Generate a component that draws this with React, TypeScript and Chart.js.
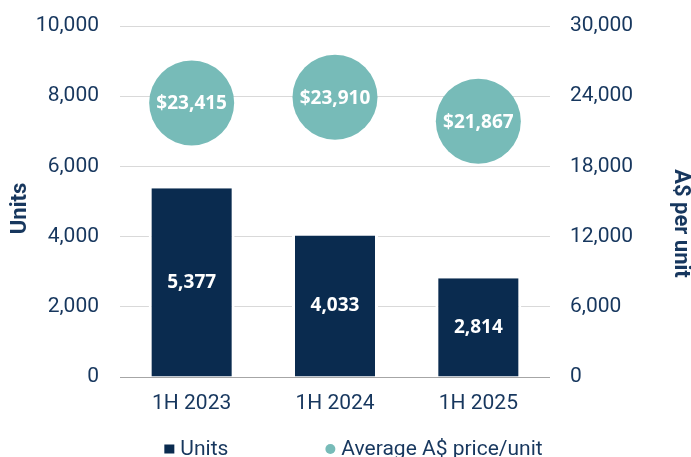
import React, { useEffect, useRef } from 'react';
import { Chart, registerables } from 'chart.js';

Chart.register(...registerables);

const categories = ['1H 2023', '1H 2024', '1H 2025'];
const unitsValues = [5377, 4033, 2814];
const avgPriceValues = [23415, 23910, 21867];
const unitsAxis = { min: 0, max: 10000, step: 2000 };
const priceAxis = { min: 0, max: 30000, step: 6000 };
const leftTitle = 'Units';
const rightTitle = 'A$ per unit';

const NAVY = '#0a2b4f';
const TEAL = '#77bbb8';
const TEXT = '#17375e';
const GRID = '#d9d9d9';
const ZERO = '#a6a6a6';

const fmt = (v: number) => Number(v).toLocaleString('en-US');

const valueLabels = {
  id: 'valueLabels',
  afterDatasetsDraw(chart: any) {
    const ctx = chart.ctx;
    ctx.save();
    ctx.fillStyle = '#ffffff';
    ctx.font = '700 19px "Open Sans"';
    ctx.textAlign = 'center';
    ctx.textBaseline = 'middle';
    chart.data.datasets.forEach((ds: any, di: number) => {
      const meta = chart.getDatasetMeta(di);
      meta.data.forEach((el: any, i: number) => {
        const v = ds.data[i] as number;
        if (meta.type === 'bar') {
          ctx.fillText(fmt(v), el.x, (el.y + el.base) / 2);
        } else {
          ctx.fillText('$' + fmt(v), el.x, el.y + 1);
        }
      });
    });
    ctx.restore();
  },
};

const axisTitles = {
  id: 'axisTitles',
  afterDraw(chart: any) {
    const ctx = chart.ctx;
    const a = chart.chartArea;
    const midY = (a.top + a.bottom) / 2;
    ctx.save();
    ctx.fillStyle = TEXT;
    ctx.font = '700 22px Roboto';
    ctx.textAlign = 'center';
    ctx.textBaseline = 'middle';
    ctx.save();
    ctx.translate(a.left - 100, midY + 7);
    ctx.rotate(-Math.PI / 2);
    ctx.fillText(leftTitle, 0, 0);
    ctx.restore();
    ctx.save();
    ctx.translate(a.right + 130, midY + 22);
    ctx.rotate(Math.PI / 2);
    ctx.fillText(rightTitle, 0, 0);
    ctx.restore();
    ctx.restore();
  },
};

const bottomLegend = {
  id: 'bottomLegend',
  afterDraw(chart: any) {
    const ctx = chart.ctx;
    ctx.save();
    ctx.font = '21px Roboto';
    ctx.textBaseline = 'alphabetic';
    ctx.textAlign = 'left';
    const items = chart.data.datasets.map((ds: any) => ({
      text: ds.label as string,
      color: (ds.type === 'bar' ? ds.backgroundColor : ds.pointBackgroundColor) as string,
      shape: ds.type === 'bar' ? 'square' : 'circle',
    }));
    const marker = 10;
    const gap = 6;
    const itemGap = 97;
    const widths = items.map((it: any) => marker + gap + ctx.measureText(it.text).width);
    const total = widths.reduce((a: number, b: number) => a + b, 0) + itemGap * (items.length - 1);
    let x = chart.width / 2 + 8 - total / 2;
    const cy = chart.height - 8;
    const baseY = chart.height - 2.5;
    items.forEach((it: any, i: number) => {
      ctx.fillStyle = it.color;
      if (it.shape === 'square') {
        ctx.fillRect(x, cy - 4.5, marker, 9);
      } else {
        ctx.beginPath();
        ctx.arc(x + marker / 2, cy, marker / 2, 0, Math.PI * 2);
        ctx.fill();
      }
      ctx.fillStyle = TEXT;
      ctx.fillText(it.text, x + marker + gap, baseY);
      x += widths[i] + itemGap;
    });
    ctx.restore();
  },
};

export default function App() {
  const canvasRef = useRef<HTMLCanvasElement | null>(null);

  useEffect(() => {
    if (!canvasRef.current) return;
    const chart = new Chart(canvasRef.current, {
      type: 'bar',
      data: {
        labels: categories,
        datasets: [
          {
            type: 'bar',
            label: 'Units',
            data: unitsValues,
            backgroundColor: NAVY,
            borderColor: '#ffffff',
            borderWidth: { left: 3, right: 3, top: 0, bottom: 0 },
            borderSkipped: false,
            barPercentage: 0.6,
            categoryPercentage: 1,
            yAxisID: 'y',
          } as any,
          {
            type: 'line',
            label: 'Average A$ price/unit',
            data: avgPriceValues,
            showLine: false,
            pointRadius: 42.5,
            pointHoverRadius: 42.5,
            pointBackgroundColor: TEAL,
            pointBorderWidth: 0,
            borderColor: TEAL,
            yAxisID: 'y1',
            clip: false,
          } as any,
        ],
      },
      options: {
        animation: false,
        responsive: true,
        maintainAspectRatio: false,
        events: [],
        layout: { autoPadding: false, padding: { top: 26, left: 0, right: 0, bottom: 0 } },
        plugins: {
          legend: { display: false },
          tooltip: { enabled: false },
        },
        scales: {
          x: {
            offset: true,
            grid: { display: false, drawTicks: false },
            border: { display: false },
            ticks: {
              color: TEXT,
              font: { family: 'Roboto', size: 21 },
              padding: 14,
            },
            afterFit: (s: any) => {
              s.height = 80;
              s.paddingLeft = 0;
              s.paddingRight = 0;
            },
          },
          y: {
            position: 'left',
            min: unitsAxis.min,
            max: unitsAxis.max,
            ticks: {
              stepSize: unitsAxis.step,
              padding: 21,
              color: TEXT,
              font: { family: 'Roboto', size: 21 },
              callback: (v: any) => fmt(v),
            },
            grid: {
              drawTicks: false,
              color: (c: any) => (c.tick && c.tick.value === 0 ? ZERO : GRID),
              lineWidth: 1,
            },
            border: { display: false },
            title: { display: false },
            afterFit: (s: any) => {
              s.width = 120;
              s.paddingTop = 0;
              s.paddingBottom = 0;
            },
          },
          y1: {
            position: 'right',
            min: priceAxis.min,
            max: priceAxis.max,
            ticks: {
              stepSize: priceAxis.step,
              padding: 20,
              color: TEXT,
              font: { family: 'Roboto', size: 21 },
              callback: (v: any) => fmt(v),
            },
            grid: { display: false, drawTicks: false },
            border: { display: false },
            title: { display: false },
            afterFit: (s: any) => {
              s.width = 141;
              s.paddingTop = 0;
              s.paddingBottom = 0;
            },
          },
        },
      } as any,
      plugins: [valueLabels, axisTitles, bottomLegend],
    });
    return () => chart.destroy();
  }, []);

  return (
    <>
      <style>{`html,body{margin:0;padding:0;overflow:hidden;}`}</style>
      <div style={{ position: 'relative', width: 691, height: 457 }}>
        <canvas ref={canvasRef} />
      </div>
    </>
  );
}
